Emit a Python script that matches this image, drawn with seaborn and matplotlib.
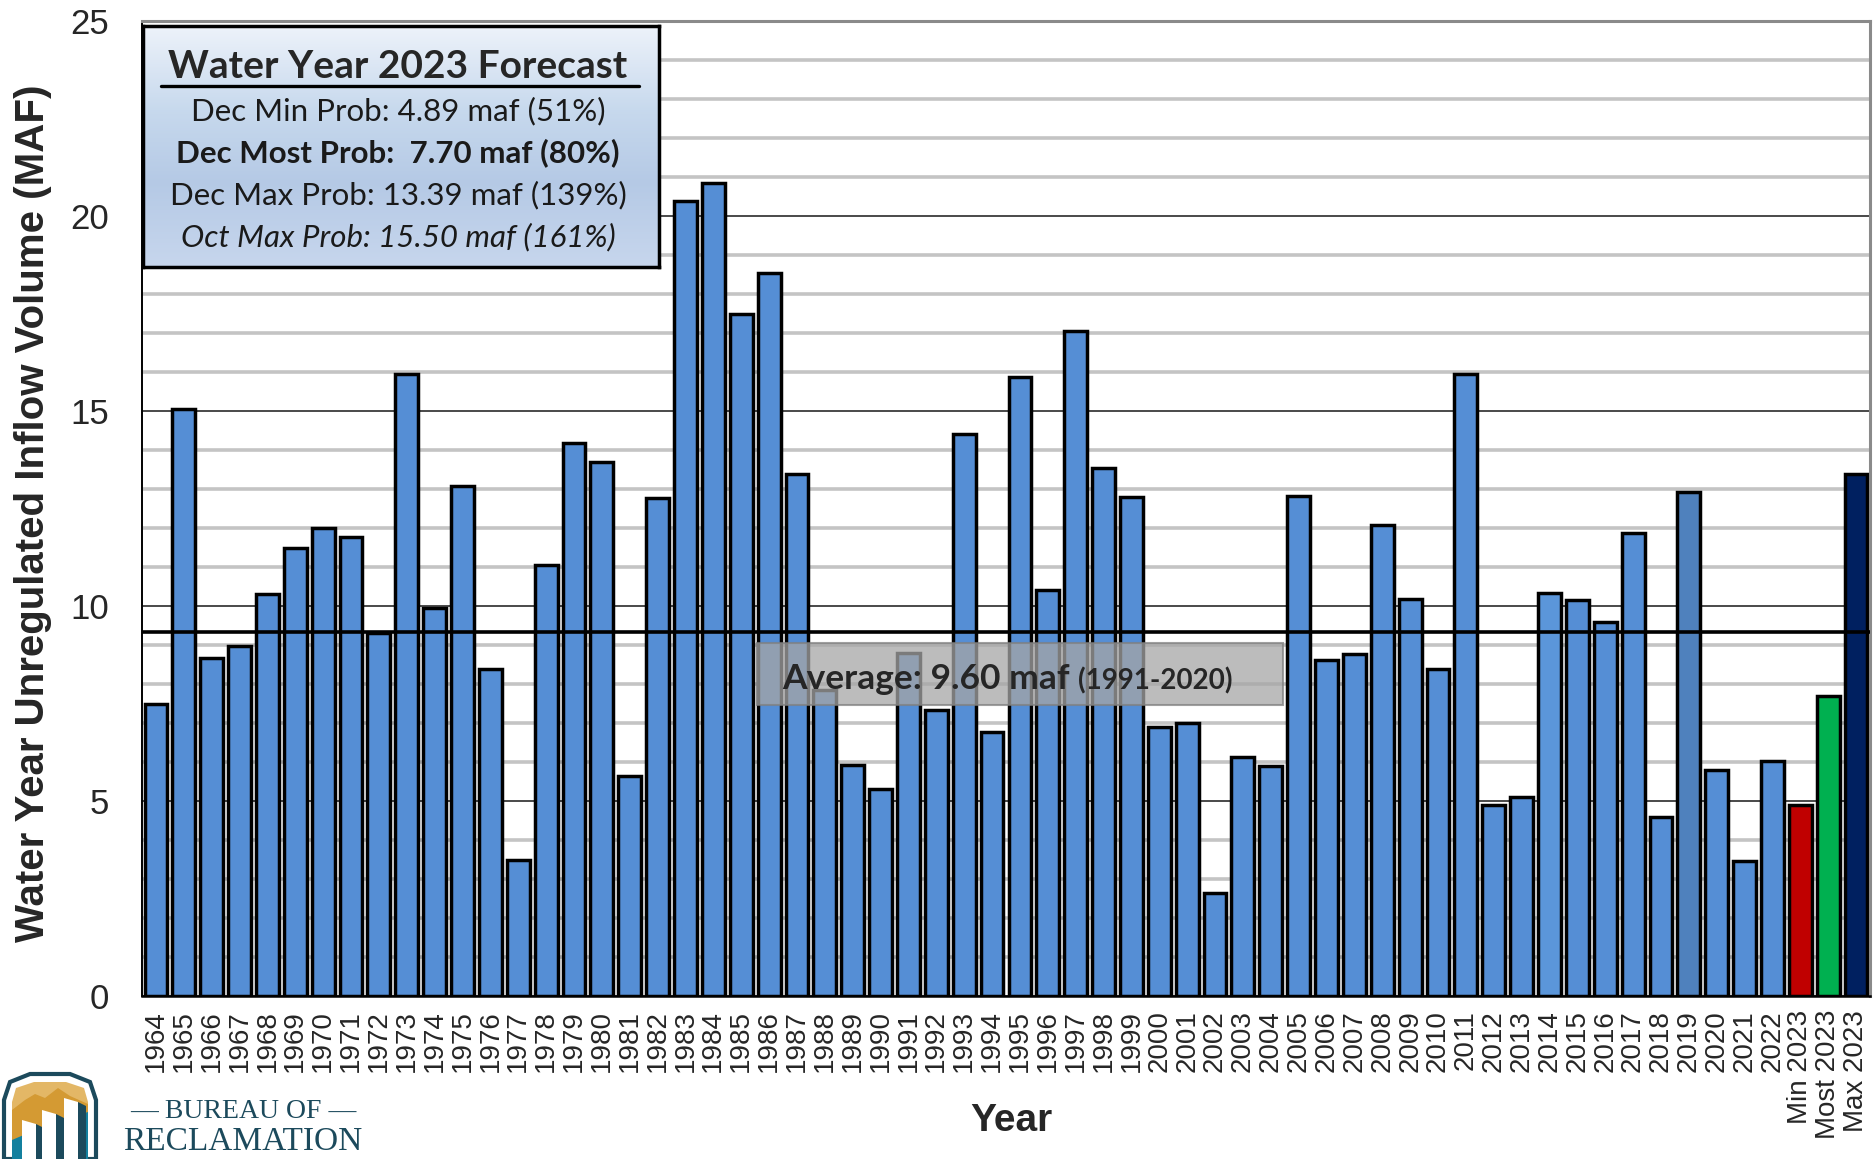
import matplotlib
matplotlib.use("Agg")
import matplotlib.pyplot as plt
import numpy as np
import pandas as pd
import seaborn as sns
from matplotlib.patches import Rectangle, Polygon
from matplotlib.ticker import FixedLocator

# historical water year inflow volumes (MAF), 1964-2022
years = [str(y) for y in range(1964, 2023)]
volumes = [
    7.50, 15.05, 8.67, 8.98, 10.30, 11.50, 12.00, 11.78, 9.30, 15.96,
    9.96, 13.07, 8.39, 3.50, 11.04, 14.18, 13.68, 5.63, 12.76, 20.39,
    20.85, 17.50, 18.54, 13.38, 7.85, 5.93, 5.30, 8.80, 7.33, 14.42,
    6.78, 15.88, 10.40, 17.05, 13.55, 12.80, 6.90, 7.00, 2.64, 6.13,
    5.89, 12.82, 8.61, 8.76, 12.08, 10.18, 8.38, 15.96, 4.90, 5.10,
    10.33, 10.15, 9.58, 11.88, 4.58, 12.93, 5.80, 3.47, 6.03,
]

# water year 2023 forecasts
forecast_labels = ["Min 2023", "Most 2023", "Max 2023"]
forecast_values = [4.89, 7.70, 13.39]
forecast_colors = ["#c00000", "#00b050", "#002060"]

average_line = 9.33
legend_lines = [
    ("Dec Min Prob: 4.89 maf (51%)", "normal", "normal"),
    ("Dec Most Prob:  7.70 maf (80%)", "bold", "normal"),
    ("Dec Max Prob: 13.39 maf (139%)", "normal", "normal"),
    ("Oct Max Prob: 15.50 maf (161%)", "normal", "italic"),
]

W, H = 1875, 1159


def fx(x):
    return x / W


def fy(y):
    return 1 - y / H


sns.set_style("white")
plt.rcParams["font.family"] = ["Liberation Sans", "DejaVu Sans"]

labels = years + forecast_labels
values = volumes + forecast_values
colors = {y: "#558ed5" for y in years}
colors["2014"] = "#5b96da"
colors["2019"] = "#4f81bd"
colors.update(dict(zip(forecast_labels, forecast_colors)))
df = pd.DataFrame({"label": labels, "volume": values})

fig = plt.figure(figsize=(W / 100, H / 100), dpi=100)
ax = fig.add_axes([fx(142), fy(996), fx(1870) - fx(142), fy(21) - fy(996)])

sns.barplot(data=df, x="label", y="volume", hue="label", palette=colors,
            legend=False, saturation=1, width=0.82, edgecolor="black",
            linewidth=2.5, ax=ax, zorder=2)

ax.set_xlim(-0.5, len(labels) - 0.5)
ax.set_ylim(0, 25)
ax.set_yticks(range(0, 26, 5))
ax.yaxis.set_minor_locator(FixedLocator([v for v in range(26) if v % 5]))
ax.set_axisbelow(True)
ax.grid(which="major", axis="y", color="#3a3a3a", lw=1.3)
ax.grid(which="minor", axis="y", color="#c4c4c4", lw=2.6)
ax.tick_params(axis="y", which="major", direction="out", length=10,
               width=1.3, labelsize=25, pad=14)
ax.tick_params(axis="y", which="minor", direction="in", length=9, width=1.3)

ax.set_xticks(range(len(labels)))
ax.set_xticklabels(labels, rotation=90, fontsize=20)
ax.xaxis.set_minor_locator(FixedLocator(np.arange(-0.5, len(labels), 2)))
ax.tick_params(axis="x", which="major", length=0, pad=10)
ax.tick_params(axis="x", which="minor", direction="out", length=12, width=1.3)
ax.set_xlabel("")
ax.set_ylabel("")

for side in ["top", "right"]:
    ax.spines[side].set_color("#8a8a8a")
    ax.spines[side].set_linewidth(2.2)
ax.spines["left"].set_color("black")
ax.spines["left"].set_linewidth(1.4)
ax.spines["bottom"].set_color("black")
ax.spines["bottom"].set_linewidth(1.8)

ax.axhline(average_line, color="black", lw=2.6, zorder=3)

# average label
fig.add_artist(Rectangle((fx(757), fy(705)), fx(1283) - fx(757), fy(643) - fy(705),
                         transform=fig.transFigure, facecolor="#a6a6a6",
                         alpha=0.75, edgecolor="#7f7f7f", lw=1.5, zorder=4))
avg_txt = fig.text(fx(782), fy(679), "Average: 9.60 maf", fontsize=25.5,
                   fontweight="bold", family="Lato", va="center", ha="left", zorder=5)
renderer = fig.canvas.get_renderer()
bb = avg_txt.get_window_extent(renderer=renderer)
fig.text(fx(bb.x1 + 8), fy(681), "(1991-2020)", fontsize=20, fontweight="bold",
         family="Lato", va="center", ha="left", zorder=5)

# forecast box with gradient
lax = fig.add_axes([fx(143), fy(267), fx(659) - fx(143), fy(26) - fy(267)])
lax.set_zorder(6)
stops = np.array([[0.93, 0.95, 0.98], [0.78, 0.85, 0.93],
                  [0.71, 0.79, 0.90], [0.78, 0.84, 0.93]])
pos = np.array([0.0, 0.35, 0.65, 1.0])
t = np.linspace(0, 1, 200)
grad = np.stack([np.interp(t, pos, stops[:, c]) for c in range(3)], axis=-1)
lax.imshow(grad[:, None, :], aspect="auto", extent=[0, 1, 0, 1])
lax.set_xlim(0, 1)
lax.set_ylim(0, 1)
lax.set_xticks([])
lax.set_yticks([])
for s in lax.spines.values():
    s.set_linewidth(2.5)
    s.set_color("black")

lax.text(0.494, 0.834, "Water Year 2023 Forecast", fontsize=28, fontweight="bold",
         family="Lato", ha="center", va="center")
lax.plot([0.035, 0.962], [0.752, 0.752], color="black", lw=2.4)
for i, (txt, weight, style) in enumerate(legend_lines):
    lax.text(0.494, 0.647 - i * 0.174, txt, fontsize=22.5, fontweight=weight,
             style=style, family="Lato", ha="center", va="center", color="#1a1a1a")

# axis titles
fig.text(fx(33), fy(513), "Water Year Unregulated Inflow Volume (MAF)",
         rotation=90, fontsize=29, fontweight="bold", ha="center", va="center")
fig.text(fx(1011), fy(1121), "Year", fontsize=28, fontweight="bold",
         ha="center", va="center")

# Reclamation logo
teal_dark = "#1c4a5c"
shield = [(4, 1159), (4, 1100), (10, 1082), (30, 1074), (70, 1074), (90, 1082),
          (96, 1100), (96, 1159)]
fig.add_artist(Polygon([(fx(x), fy(y)) for x, y in shield], closed=True,
                       transform=fig.transFigure, facecolor="white",
                       edgecolor=teal_dark, lw=3))
gold = [(12, 1159), (12, 1102), (16, 1088), (34, 1082), (66, 1082), (84, 1088),
        (88, 1102), (88, 1159)]
fig.add_artist(Polygon([(fx(x), fy(y)) for x, y in gold], closed=True,
                       transform=fig.transFigure, facecolor="#e3b766", lw=0))
mountain = [(12, 1110), (25, 1100), (35, 1094), (45, 1098), (58, 1088), (70, 1096),
            (88, 1104), (88, 1159), (12, 1159)]
fig.add_artist(Polygon([(fx(x), fy(y)) for x, y in mountain], closed=True,
                       transform=fig.transFigure, facecolor="#d49a33", lw=0))
water = [(12, 1140), (40, 1128), (88, 1112), (88, 1159), (12, 1159)]
fig.add_artist(Polygon([(fx(x), fy(y)) for x, y in water], closed=True,
                       transform=fig.transFigure, facecolor="#13809e", lw=0))
for x0, top in [(22, 1120), (42, 1110), (64, 1098)]:
    col = [(x0, 1159), (x0, top), (x0 + 14, top + 4), (x0 + 14, 1159)]
    fig.add_artist(Polygon([(fx(x), fy(y)) for x, y in col], closed=True,
                           transform=fig.transFigure, facecolor="white", lw=0))
    side = [(x0 + 14, top + 4), (x0 + 22, top + 8), (x0 + 22, 1159), (x0 + 14, 1159)]
    fig.add_artist(Polygon([(fx(x), fy(y)) for x, y in side], closed=True,
                           transform=fig.transFigure, facecolor=teal_dark, lw=0))

fig.text(fx(243), fy(1111), "— BUREAU OF —", fontsize=20, family="Liberation Serif",
         color=teal_dark, ha="center", va="center")
fig.text(fx(243), fy(1142), "RECLAMATION", fontsize=24, family="Liberation Serif",
         color=teal_dark, ha="center", va="center")

fig.savefig("out.png", dpi=100)
